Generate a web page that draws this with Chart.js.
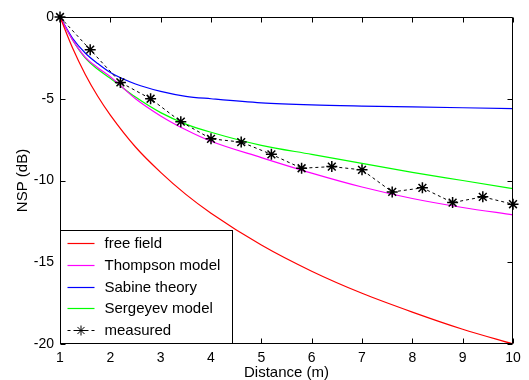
<!DOCTYPE html>
<html>
<head>
<meta charset="utf-8">
<script src="https://cdn.jsdelivr.net/npm/chart.js@4/dist/chart.umd.min.js"></script>
<style>
html,body{margin:0;padding:0;background:#fff;}
#wrap{width:529px;height:380px;}
</style>
</head>
<body>
<div id="wrap"><canvas id="c" width="529" height="380"></canvas></div>
<script>
// ---- data ----
const curveDistance = [1, 1.25, 1.5, 1.75, 2, 2.5, 3, 3.5, 4, 5, 6, 7, 8, 9, 10];
const freeField = [0, -1.9, -3.5, -4.85, -6.0, -7.95, -9.5, -10.85, -12.0, -13.95, -15.55, -16.9, -18.05, -19.1, -20.0];
const thompson  = [0, -1.4, -2.45, -3.1, -3.65, -5.0, -6.05, -6.9, -7.6, -8.6, -9.55, -10.4, -11.1, -11.65, -12.1];
const sabine    = [0, -1.3, -2.2, -2.85, -3.4, -4.1, -4.55, -4.85, -5.0, -5.25, -5.38, -5.45, -5.5, -5.55, -5.6];
const sergeyev  = [0, -1.4, -2.5, -3.2, -3.75, -4.9, -5.85, -6.55, -7.05, -7.85, -8.4, -8.95, -9.5, -10.0, -10.5];
const measuredDistance = [1, 1.6, 2.2, 2.8, 3.4, 4.0, 4.6, 5.2, 5.8, 6.4, 7.0, 7.6, 8.2, 8.8, 9.4, 10];
const measured = [0, -2.0, -4.0, -5.0, -6.4, -7.45, -7.65, -8.4, -9.25, -9.15, -9.35, -10.7, -10.45, -11.35, -11.0, -11.45];
const seriesNames = ['free field', 'Thompson model', 'Sabine theory', 'Sergeyev model', 'measured'];
const xTicks = [1, 2, 3, 4, 5, 6, 7, 8, 9, 10];
const yTicks = [0, -5, -10, -15, -20];

const FONT = "'Liberation Sans', Arial, sans-serif";
const pts = (xs, ys) => xs.map((x, i) => ({x: x, y: ys[i]}));

function curve(label, data, color) {
  return {
    label: label, data: pts(curveDistance, data), borderColor: color,
    borderWidth: 1.2, pointRadius: 0, fill: false,
    cubicInterpolationMode: 'monotone', order: 1
  };
}

const datasets = [
  curve(seriesNames[0], freeField, '#ff0000'),
  curve(seriesNames[1], thompson, '#ff00ff'),
  curve(seriesNames[2], sabine, '#0000ff'),
  curve(seriesNames[3], sergeyev, '#00ff00'),
  {
    label: seriesNames[4], data: pts(measuredDistance, measured),
    borderColor: '#000', borderWidth: 1, borderDash: [3, 3], tension: 0,
    pointStyle: 'star', pointRadius: 5.5, pointBorderWidth: 1.5,
    pointBorderColor: '#000', pointBackgroundColor: '#000',
    fill: false, order: 0, clip: false
  }
];

const framePlugin = {
  id: 'frame',
  afterDatasetsDraw(chart) {
    const ctx = chart.ctx, a = chart.chartArea;
    const xs = chart.scales.x, ys = chart.scales.y;
    ctx.save();
    ctx.strokeStyle = '#000';
    ctx.lineWidth = 1;
    ctx.setLineDash([]);
    ctx.beginPath();
    const L = Math.round(a.left) + 0.5, R = Math.round(a.right) - 0.5;
    const T = Math.round(a.top) + 0.5, B = Math.round(a.bottom) - 0.5;
    ctx.rect(L, T, R - L, B - T);
    const tl = 5;
    xTicks.forEach(v => {
      const px = Math.round(xs.getPixelForValue(v)) + 0.5;
      ctx.moveTo(px, B); ctx.lineTo(px, B - tl);
      ctx.moveTo(px, T); ctx.lineTo(px, T + tl);
    });
    yTicks.forEach(v => {
      const py = Math.round(ys.getPixelForValue(v)) + 0.5;
      ctx.moveTo(L, py); ctx.lineTo(L + tl, py);
      ctx.moveTo(R, py); ctx.lineTo(R - tl, py);
    });
    ctx.stroke();
    ctx.restore();
  },
  afterDraw(chart) {
    const ctx = chart.ctx, a = chart.chartArea;
    const ds = chart.data.datasets;
    const boxL = Math.round(a.left) + 0.5, boxB = Math.round(a.bottom) - 0.5;
    const boxT = boxB - 113, boxR = boxL + 172;
    ctx.save();
    ctx.fillStyle = '#fff';
    ctx.fillRect(boxL, boxT, boxR - boxL, boxB - boxT);
    ctx.strokeStyle = '#000';
    ctx.lineWidth = 1;
    ctx.strokeRect(boxL, boxT, boxR - boxL, boxB - boxT);
    ctx.font = '15px ' + FONT;
    ctx.textBaseline = 'middle';
    ctx.textAlign = 'left';
    ds.forEach((d, i) => {
      const y = Math.round(boxT + 12.5 + i * 21.75) + 0.5;
      ctx.strokeStyle = d.borderColor;
      ctx.lineWidth = d.borderWidth;
      ctx.setLineDash(d.borderDash || []);
      ctx.beginPath();
      ctx.moveTo(boxL + 7, y); ctx.lineTo(boxL + 34, y);
      ctx.stroke();
      ctx.setLineDash([]);
      if (d.pointStyle) {
        Chart.helpers.drawPoint(ctx, {pointStyle: d.pointStyle, radius: 5, borderWidth: 1.3, rotation: 0}, boxL + 20.5, y);
      }
      ctx.fillStyle = '#000';
      ctx.fillText(d.label, boxL + 44, y);
    });
    ctx.restore();
  }
};

new Chart(document.getElementById('c'), {
  type: 'line',
  data: { datasets: datasets },
  options: {
    responsive: false,
    animation: false,
    devicePixelRatio: 1,
    layout: { padding: { top: 17, right: 16, left: 0, bottom: 0 } },
    plugins: { legend: { display: false }, tooltip: { enabled: false } },
    scales: {
      x: {
        type: 'linear', min: 1, max: 10,
        afterBuildTicks(s) { s.ticks = xTicks.map(v => ({value: v})); },
        afterFit(s) { s.height = 36; },
        grid: { display: false, drawTicks: false }, border: { display: false },
        ticks: { color: '#000', font: { family: FONT, size: 14 }, padding: 6, maxRotation: 0, autoSkip: false },
        title: { display: true, text: 'Distance (m)', color: '#000', font: { family: FONT, size: 15, lineHeight: 1.0 }, padding: { top: 0, bottom: 0 } }
      },
      y: {
        type: 'linear', min: -20, max: 0,
        afterBuildTicks(s) { s.ticks = yTicks.map(v => ({value: v})); },
        afterFit(s) { s.width = 60; },
        grid: { display: false, drawTicks: false }, border: { display: false },
        ticks: { color: '#000', font: { family: FONT, size: 14 }, padding: 6, autoSkip: false },
        title: { display: true, text: 'NSP (dB)', color: '#000', font: { family: FONT, size: 15 }, padding: { top: 14, bottom: 0 } }
      }
    }
  },
  plugins: [framePlugin]
});
</script>
</body>
</html>
